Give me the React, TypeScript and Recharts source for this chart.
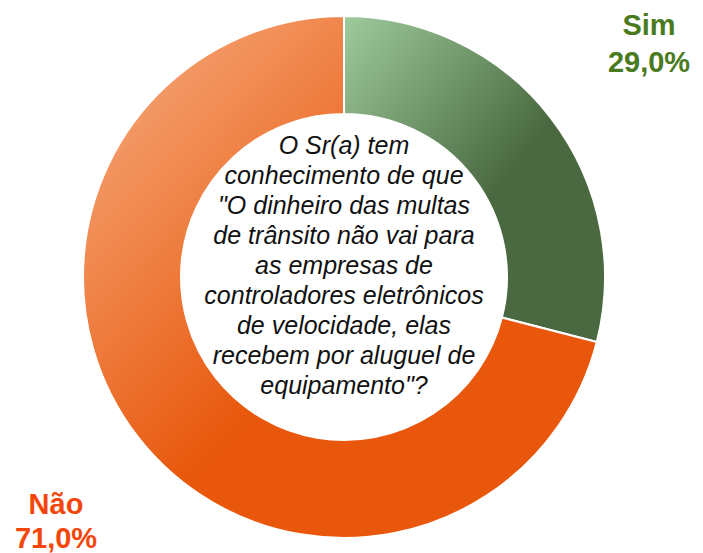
import { Cell, Pie, PieChart } from "recharts";

const categories = ["Sim", "Não"];
const values = [29.0, 71.0];
const valueLabels = ["29,0%", "71,0%"];
const question = [
  "O Sr(a) tem",
  "conhecimento de que",
  "\"O dinheiro das multas",
  "de trânsito não vai para",
  "as empresas de",
  "controladores eletrônicos",
  "de velocidade, elas",
  "recebem por aluguel de",
  "equipamento\"?",
];

const data = categories.map((name, i) => ({ name, value: values[i] }));
const fills = ["url(#gradSim)", "url(#gradNao)"];
const labelColors = ["#4A7A1E", "#F4460A"];
const font = "'Liberation Sans', Arial, sans-serif";

export default function App() {
  return (
    <div
      style={{
        position: "absolute",
        left: 0,
        top: 0,
        width: 703,
        height: 553,
        background: "#fff",
        fontFamily: font,
      }}
    >
      <PieChart width={703} height={553} margin={{ top: 0, right: 0, bottom: 0, left: 0 }}>
        <defs>
          <linearGradient id="gradSim" x1="0" y1="0" x2="1" y2="1">
            <stop offset="0" stopColor="#9ECB9C" />
            <stop offset="0.56" stopColor="#4A6941" />
            <stop offset="1" stopColor="#4A6941" />
          </linearGradient>
          <linearGradient id="gradNao" x1="0" y1="0" x2="1" y2="1">
            <stop offset="0" stopColor="#F7B085" />
            <stop offset="0.55" stopColor="#E8570B" />
            <stop offset="1" stopColor="#E8570B" />
          </linearGradient>
        </defs>
        <Pie
          data={data}
          dataKey="value"
          nameKey="name"
          cx={344}
          cy={277}
          innerRadius={163}
          outerRadius={261}
          startAngle={90}
          endAngle={-270}
          stroke="#fff"
          strokeWidth={2}
          isAnimationActive={false}
        >
          {data.map((d, i) => (
            <Cell key={d.name} fill={fills[i]} />
          ))}
        </Pie>
      </PieChart>
      <svg
        width={703}
        height={553}
        style={{ position: "absolute", left: 0, top: 0, pointerEvents: "none" }}
      >
        <g fontFamily={font} fontWeight="bold" fontSize={29} textAnchor="middle">
          <text x={649} y={35} fill={labelColors[0]}>{categories[0]}</text>
          <text x={649} y={72} fill={labelColors[0]}>{valueLabels[0]}</text>
          <text x={56} y={514} fill={labelColors[1]}>{categories[1]}</text>
          <text x={56} y={548} fill={labelColors[1]}>{valueLabels[1]}</text>
        </g>
        <g fontFamily={font} fontStyle="italic" fontSize={25} textAnchor="middle" fill="#111">
          {question.map((line, i) => (
            <text key={i} x={344} y={154 + i * 30}>{line}</text>
          ))}
        </g>
      </svg>
    </div>
  );
}
